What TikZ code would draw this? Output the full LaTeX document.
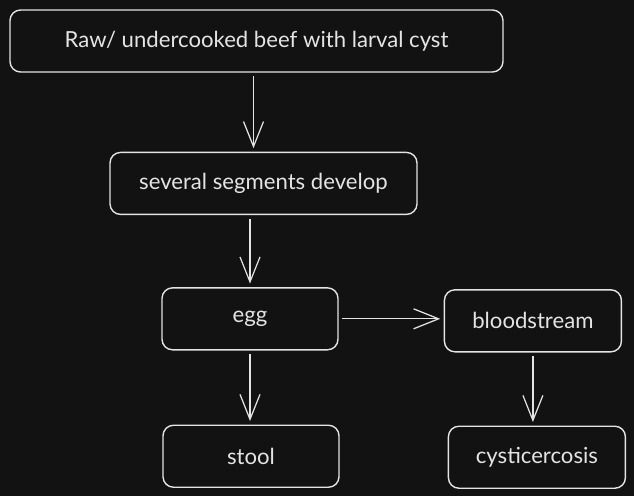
\documentclass[tikz,border=0pt]{standalone}
\usepackage{fontspec}
\setmainfont{Lato}
\usepackage{xcolor}
\definecolor{cycbg}{HTML}{121212}
\definecolor{cycink}{HTML}{E4E4E4}
\usepackage{tikz}
\usetikzlibrary{arrows.meta,positioning,backgrounds}
\tikzset{
  cycbox/.style={draw=cycink,text=cycink,line width=0.8pt,rounded corners=6pt,align=center,font=\fontsize{12.6}{15}\selectfont,minimum height=12.4mm},
  cycflow/.style={-{Straight Barb[length=5mm,width=4mm,line width=0.7pt]},draw=cycink,line width=0.7pt,shorten <=2pt,shorten >=2pt},
}

\begin{document}
\begin{tikzpicture}[node distance=14.6mm and 21mm]
 % tapeworm life cycle
\fill[cycbg] (0,0) rectangle (12.68,-9.92);
\useasboundingbox (0,0) rectangle (12.68,-9.92);
\node[cycbox,minimum width=98.6mm] (beef) at (5.13,-0.82) {Raw/ undercooked beef with larval cyst};
\node[cycbox,minimum width=61.4mm,below=15.8mm of beef,xshift=1.4mm] (seg) {several segments develop};
\node[cycbox,minimum width=35.2mm,below=14.4mm of seg,xshift=-2.7mm] (egg) {egg};
\node[cycbox,minimum width=35.4mm,right=of egg,yshift=-0.4mm] (blood) {bloodstream};
\node[cycbox,minimum width=35.2mm,below=14.8mm of egg,xshift=0.2mm] (stool) {stool};
\node[cycbox,minimum width=35.4mm,below=of blood,xshift=0.8mm] (cyst) {cysticercosis};
\draw[cycflow] ([xshift=-0.6mm]beef.south)--([xshift=-0.6mm]beef.south|-seg.north);
\draw[cycflow] (egg|-seg.south)--(egg.north);
\draw[cycflow] (egg.east)--(blood.west|-egg.east);
\draw[cycflow] (egg)--(egg|-stool.north);
\draw[cycflow] (blood)--(blood|-cyst.north);
\end{tikzpicture}
\end{document}
